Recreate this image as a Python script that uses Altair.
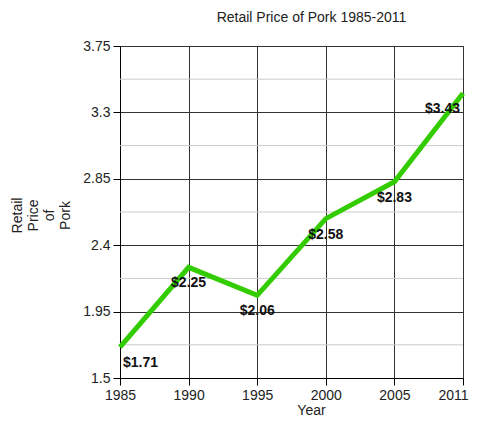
import altair as alt
import pandas as pd

years = ["1985", "1990", "1995", "2000", "2005", "2011"]
prices = [1.71, 2.25, 2.06, 2.58, 2.83, 3.43]
price_labels = ["$1.71", "$2.25", "$2.06", "$2.58", "$2.83", "$3.43"]
label_side = ["left", "center", "center", "center", "center", "right"]
y_major = [1.5, 1.95, 2.4, 2.85, 3.3, 3.75]
y_minor = [1.725, 2.175, 2.625, 3.075, 3.525]

df = pd.DataFrame({"Year": years, "Price": prices, "Label": price_labels, "Side": label_side})
minor_df = pd.DataFrame({"Price": y_minor})

FONT = "Liberation Sans"
y_scale = alt.Scale(domain=[1.5, 3.75], nice=False, zero=False)
x_scale = alt.Scale(type="point", padding=0)

x_axis = alt.Axis(
    labelAngle=0, labelFontSize=14, labelFont=FONT, labelColor="#222", labelPadding=3,
    labelAlign={"expr": "datum.label == '2011' ? 'right' : 'center'"},
    labelOffset={"expr": "datum.label == '2011' ? 5 : 0"},
    tickSize=7, tickColor="#000", domainColor="#000",
    grid=True, gridColor="#333", gridOpacity=1,
    title="Year", titleFont=FONT, titleFontSize=14, titleFontWeight="normal", titleColor="#222",
    titleX=191, titleY=36, titleBaseline="alphabetic", titleAlign="center",
)
y_axis = alt.Axis(
    values=y_major, format=".3~g", labelFontSize=14, labelFont=FONT, labelColor="#222", labelPadding=3,
    tickSize=7, tickColor="#000", domainColor="#000",
    grid=True, gridColor="#333", gridOpacity=1,
    title=["Retail", "Price", "of", "Pork"], titleFont=FONT, titleFontSize=14,
    titleFontWeight="normal", titleColor="#222", titleLineHeight=16,
    titleX=-103, titleY=169, titleAlign="center", titleBaseline="middle", titleAngle=270,
)

base = alt.Chart(df)

line = base.mark_line(color="#33cc00", strokeWidth=5).encode(
    x=alt.X("Year:O", sort=years, scale=x_scale, axis=x_axis),
    y=alt.Y("Price:Q", scale=y_scale, axis=y_axis),
)

minor = alt.Chart(minor_df).mark_rule(color="#cccccc", strokeWidth=1).encode(
    y=alt.Y("Price:Q", scale=y_scale)
)

def labels(side, align, dx):
    return base.transform_filter(alt.datum.Side == side).mark_text(
        align=align, dx=dx, dy=16, fontSize=14, fontWeight="bold", font=FONT, color="#111"
    ).encode(
        x=alt.X("Year:O", sort=years, scale=x_scale),
        y=alt.Y("Price:Q", scale=y_scale),
        text="Label:N",
    )

chart = alt.layer(
    minor, line,
    labels("left", "left", 3),
    labels("center", "center", 0),
    labels("right", "right", -3),
).properties(
    width=343, height=332,
    title=alt.TitleParams(
        "Retail Price of Pork 1985-2011", font=FONT, fontSize=14, fontWeight="normal",
        color="#222", anchor="middle", frame="group", dx=20, offset=14,
    ),
    autosize=alt.AutoSizeParams(type="none"),
    padding={"left": 112, "top": 38, "right": 6, "bottom": 40},
).configure_view(stroke="#333")

chart.save("out.html", embed_options={"renderer": "svg", "actions": False})
